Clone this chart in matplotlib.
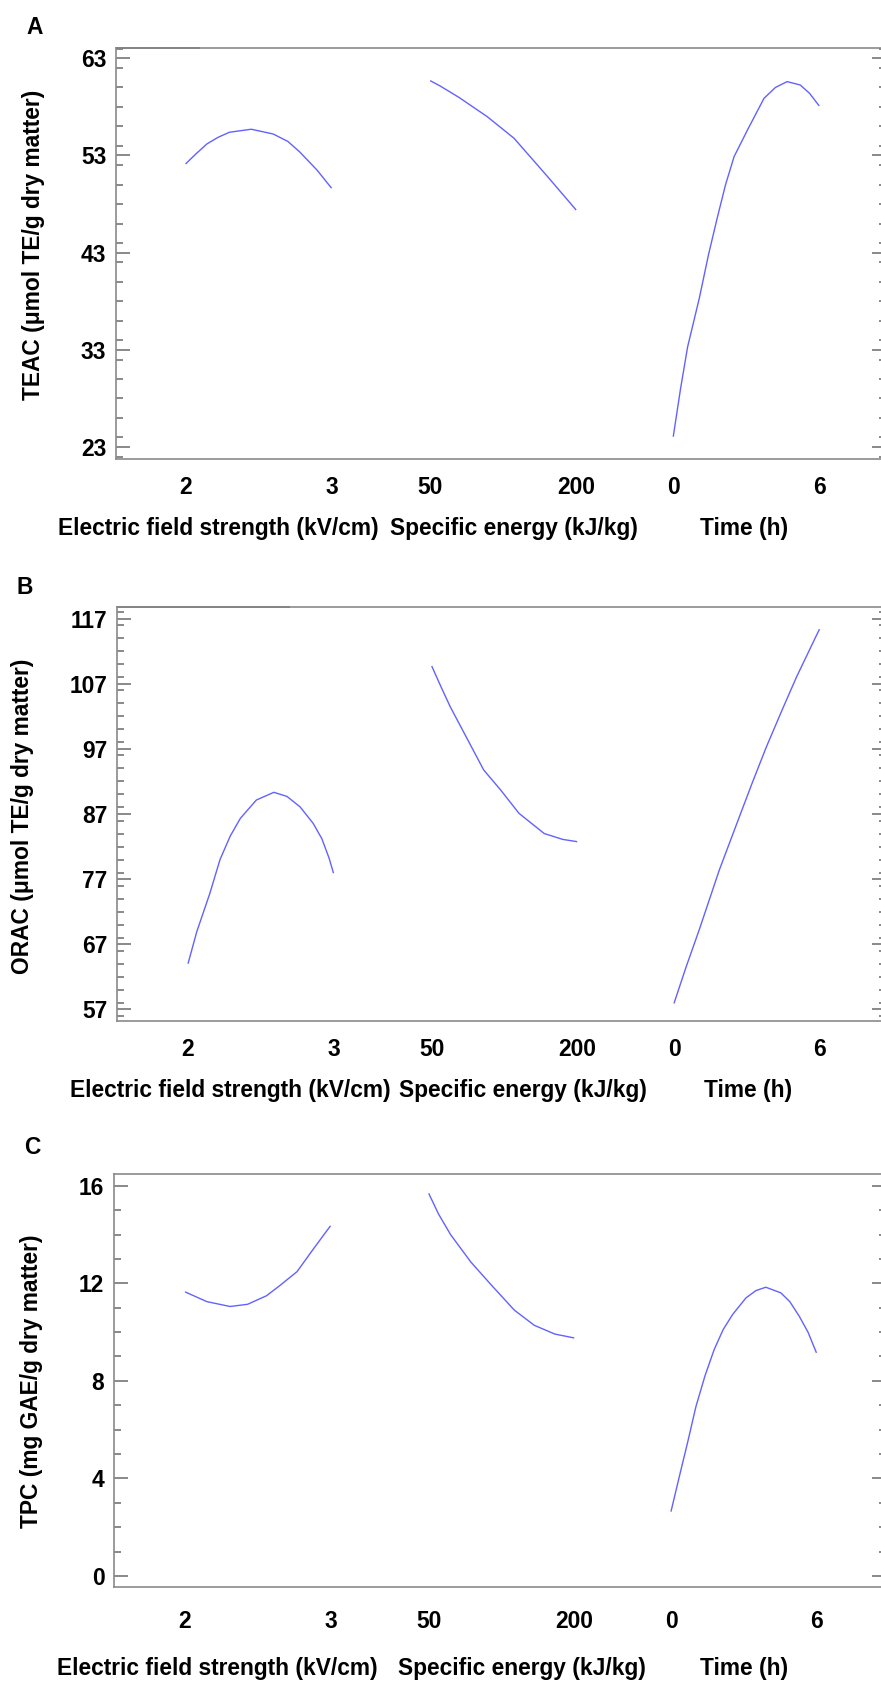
import matplotlib
matplotlib.use("Agg")
import matplotlib.pyplot as plt
from matplotlib.ticker import MultipleLocator

plt.rcParams['font.family'] = ['Liberation Sans', 'DejaVu Sans']
plt.rcParams['font.weight'] = 'bold'

W, H = 881, 1682

# ---------------- data ----------------
factor_labels = ["Electric field strength (kV/cm)", "Specific energy (kJ/kg)", "Time (h)"]
factor_lo = [2, 50, 0]
factor_hi = [3, 200, 6]
tick_labels = ["2", "3", "50", "200", "0", "6"]

# Panel A: TEAC
teac_field_x = [2.0, 2.07, 2.145, 2.22, 2.30, 2.45, 2.60, 2.70, 2.78, 2.90, 3.0]
teac_field_y = [52.13, 53.15, 54.18, 54.85, 55.39, 55.70, 55.21, 54.45, 53.39, 51.50, 49.63]
teac_energy_x = [50, 60.3, 80, 108.7, 136.2, 170.7, 200]
teac_energy_y = [60.70, 60.15, 58.95, 56.99, 54.77, 50.82, 47.39]
teac_time_x = [0.0, 0.30, 0.59, 1.07, 1.45, 1.82, 2.15, 2.50, 3.05, 3.73, 4.20, 4.68, 5.22, 5.60, 6.0]
teac_time_y = [24.06, 29.0, 33.30, 38.30, 42.8, 46.70, 50.0, 52.88, 55.62, 58.88, 60.0, 60.60, 60.25, 59.40, 58.10]

# Panel B: ORAC
orac_field_x = [2.0, 2.06, 2.15, 2.22, 2.29, 2.36, 2.47, 2.59, 2.68, 2.77, 2.86, 2.92, 2.97, 3.0]
orac_field_y = [64.0, 68.9, 74.8, 80.0, 83.6, 86.34, 89.15, 90.33, 89.7, 88.10, 85.57, 83.2, 80.20, 77.90]
orac_energy_x = [50, 60, 69.0, 86.4, 103.6, 121.0, 140.0, 166.0, 185.0, 200]
orac_energy_y = [109.73, 106.4, 103.5, 98.6, 93.76, 90.7, 87.1, 84.0, 83.1, 82.75]
orac_time_x = [0.0, 0.5, 1.04, 1.87, 2.70, 3.25, 3.81, 4.45, 5.06, 6.0]
orac_time_y = [57.9, 63.5, 69.2, 78.4, 86.6, 92.0, 97.3, 102.9, 108.1, 115.4]

# Panel C: TPC
tpc_field_x = [2.0, 2.15, 2.31, 2.43, 2.56, 2.65, 2.77, 2.885, 3.0]
tpc_field_y = [11.65, 11.25, 11.05, 11.14, 11.49, 11.90, 12.48, 13.43, 14.36]
tpc_energy_x = [50, 60, 72.5, 93.3, 114.1, 138.3, 158.8, 180, 200]
tpc_energy_y = [15.69, 14.85, 14.0, 12.88, 11.95, 10.9, 10.28, 9.92, 9.76]
tpc_time_x = [0.0, 0.35, 0.68, 1.03, 1.40, 1.78, 2.15, 2.54, 3.09, 3.50, 3.91, 4.53, 4.90, 5.29, 5.65, 6.0]
tpc_time_y = [2.64, 4.1, 5.45, 6.95, 8.2, 9.28, 10.1, 10.72, 11.40, 11.70, 11.84, 11.61, 11.25, 10.65, 10.0, 9.15]

teac_ticks = [23, 33, 43, 53, 63]
orac_ticks = [57, 67, 77, 87, 97, 107, 117]
tpc_ticks = [0, 4, 8, 12, 16]

# ---------------- layout ----------------
seg_start = [0.0, 1.675, 3.34]

panels = [
    dict(letter="A", ylabel="TEAC (\u03bcmol TE/g dry matter)",
         series=[(teac_field_x, teac_field_y), (teac_energy_x, teac_energy_y), (teac_time_x, teac_time_y)],
         yticks=teac_ticks, minor=2, ylim=(21.80, 64.09),
         left=116, right=886, top=47.7, bottom=458.7, x0=185.6, scale=146.0,
         tick_y=488, lab_y=529, lab_x=[218, 514, 744],
         ylab_xy=(34, 245), letter_xy=(35, 27), dark_top=200),
    dict(letter="B", ylabel="ORAC (\u03bcmol TE/g dry matter)",
         series=[(orac_field_x, orac_field_y), (orac_energy_x, orac_energy_y), (orac_time_x, orac_time_y)],
         yticks=orac_ticks, minor=2, ylim=(55.25, 118.75),
         left=117.3, right=886, top=607.3, bottom=1020.7, x0=188.0, scale=145.5,
         tick_y=1049, lab_y=1090, lab_x=[230, 523, 748],
         ylab_xy=(23, 816.5), letter_xy=(25, 587), dark_top=290),
    dict(letter="C", ylabel="TPC (mg GAE/g dry matter)",
         series=[(tpc_field_x, tpc_field_y), (tpc_energy_x, tpc_energy_y), (tpc_time_x, tpc_time_y)],
         yticks=tpc_ticks, minor=1, ylim=(-0.463, 16.47),
         left=114, right=886, top=1174.3, bottom=1587.3, x0=185.0, scale=145.5,
         tick_y=1621.7, lab_y=1668, lab_x=[217, 522, 744],
         ylab_xy=(32, 1381.5), letter_xy=(32, 1147), dark_top=None),
]

fig = plt.figure(figsize=(W / 100, H / 100), dpi=100)
FS = 16.4
LINE_COLOR = '#6262ff'
AX_COLOR = '#8a8a8a'

for p in panels:
    l, r, t, b = p['left'], p['right'], p['top'], p['bottom']
    ax = fig.add_axes([l / W, 1 - b / H, (r - l) / W, (b - t) / H])
    ax.set_xlim((l - p['x0']) / p['scale'], (r - p['x0']) / p['scale'])
    ax.set_ylim(*p['ylim'])
    for i, (xs, ys) in enumerate(p['series']):
        lo, hi = factor_lo[i], factor_hi[i]
        pos = [seg_start[i] + (x - lo) / (hi - lo) for x in xs]
        ax.plot(pos, ys, color=LINE_COLOR, lw=1.0, solid_capstyle='butt',
                solid_joinstyle='round')
    for s in ax.spines.values():
        s.set_color(AX_COLOR)
        s.set_linewidth(1.2)
    if p['dark_top'] is not None:
        ax.plot([0, (p['dark_top'] - l) / (r - l)], [1, 1], transform=ax.transAxes,
                color='#555555', lw=1.2, clip_on=False, solid_capstyle='butt')
    # y ticks
    ax.set_yticks(p['yticks'])
    ax.yaxis.set_minor_locator(MultipleLocator(p['minor']))
    ax.tick_params(axis='y', which='both', direction='in', left=True, right=True,
                   labelleft=True, labelright=False, color='#6a6a6a', width=1.1,
                   labelsize=FS, pad=7)
    ax.tick_params(axis='y', which='major', length=10)
    ax.tick_params(axis='y', which='minor', length=5)
    # x tick labels (segment ends)
    xt = []
    for i in range(3):
        xt += [seg_start[i], seg_start[i] + 1]
    ax.set_xticks(xt, tick_labels)
    ax.tick_params(axis='x', which='both', length=0, labelsize=FS,
                   pad=(p['tick_y'] - b) * 0.72)
    for lbl in ax.get_xticklabels():
        lbl.set_verticalalignment('center')
        lbl.set_fontweight('bold')
    for lbl in ax.get_yticklabels():
        lbl.set_fontweight('bold')
    # factor labels
    for i in range(3):
        fig.text(p['lab_x'][i] / W, 1 - p['lab_y'] / H, factor_labels[i],
                 ha='center', va='center', fontsize=FS, fontweight='bold')
    fig.text(p['ylab_xy'][0] / W, 1 - p['ylab_xy'][1] / H, p['ylabel'],
             rotation=90, ha='center', va='center', fontsize=FS, fontweight='bold')
    fig.text(p['letter_xy'][0] / W, 1 - p['letter_xy'][1] / H, p['letter'],
             ha='center', va='center', fontsize=FS, fontweight='bold')

fig.savefig("out.png", dpi=100, facecolor='white')
